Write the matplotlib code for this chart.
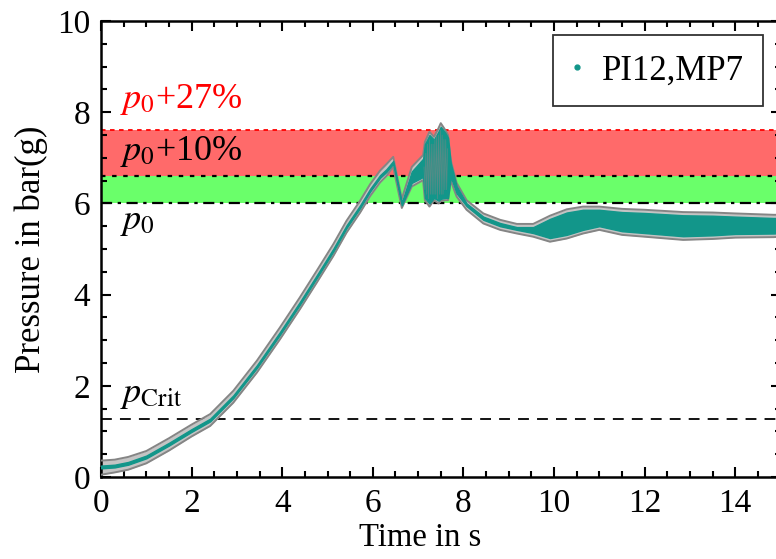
import numpy as np
import matplotlib
matplotlib.use("Agg")
import matplotlib.pyplot as plt
from matplotlib.ticker import MultipleLocator

plt.rcParams['font.family'] = ['Liberation Serif', 'DejaVu Serif']
plt.rcParams['mathtext.fontset'] = 'stix'

# reference levels in bar(g)
p0 = 6.0
p10 = 6.6
p27 = 7.62
p_crit = 1.27

# measured pressure PI12, MP7: time, grey envelope (hi/lo), teal envelope (hi/lo)
t = [0.0, 0.3, 0.6, 1.0, 1.5, 2.0, 2.41, 2.92, 3.44, 3.95, 4.39, 4.76, 5.13,
     5.42, 5.72, 5.94, 6.16, 6.30, 6.45, 6.64, 6.86, 7.11, 7.15, 7.25, 7.35,
     7.45, 7.50, 7.60, 7.66, 7.72, 7.85, 8.07, 8.44, 8.81, 9.18, 9.54, 9.91,
     10.28, 10.64, 11.0, 11.5, 12.0, 12.85, 13.5, 14.0, 14.85, 15.0]
grey_hi = [0.36, 0.38, 0.44, 0.57, 0.85, 1.15, 1.38, 1.89, 2.55, 3.28, 3.94, 4.52, 5.11,
           5.62, 6.06, 6.42, 6.72, 6.86, 7.02, 6.10, 6.80, 7.06, 7.35, 7.57, 7.46,
           7.65, 7.76, 7.61, 7.50, 6.95, 6.45, 6.07, 5.78, 5.64, 5.55, 5.55, 5.73,
           5.87, 5.93, 5.93, 5.88, 5.86, 5.81, 5.80, 5.78, 5.75, 5.75]
grey_lo = [0.05, 0.10, 0.16, 0.30, 0.58, 0.89, 1.12, 1.63, 2.29, 3.02, 3.68, 4.26, 4.85,
           5.36, 5.80, 6.16, 6.46, 6.60, 6.80, 5.90, 6.37, 6.51, 6.07, 5.93, 6.07,
           6.00, 6.05, 6.07, 6.07, 6.50, 6.15, 5.86, 5.56, 5.42, 5.34, 5.27, 5.16,
           5.23, 5.34, 5.42, 5.31, 5.27, 5.20, 5.22, 5.25, 5.26, 5.27]
teal_hi = [0.25, 0.27, 0.33, 0.47, 0.75, 1.05, 1.28, 1.79, 2.45, 3.18, 3.84, 4.42, 5.01,
           5.52, 5.96, 6.32, 6.62, 6.75, 6.93, 6.02, 6.70, 6.98, 7.30, 7.50, 7.40,
           7.58, 7.68, 7.55, 7.44, 6.88, 6.38, 6.00, 5.71, 5.57, 5.48, 5.48, 5.66,
           5.80, 5.86, 5.86, 5.81, 5.79, 5.74, 5.73, 5.71, 5.68, 5.68]
teal_lo = [0.19, 0.21, 0.27, 0.41, 0.69, 0.99, 1.22, 1.73, 2.39, 3.12, 3.78, 4.36, 4.95,
           5.46, 5.90, 6.26, 6.56, 6.69, 6.87, 5.96, 6.45, 6.58, 6.12, 6.00, 6.12,
           6.06, 6.10, 6.12, 6.12, 6.58, 6.22, 5.94, 5.64, 5.50, 5.42, 5.35, 5.24,
           5.31, 5.42, 5.50, 5.39, 5.35, 5.28, 5.30, 5.33, 5.34, 5.35]

# rapid oscillation between 7.1 s and 7.7 s (grey speckle inside the teal block)
t_osc = [7.13, 7.15, 7.17, 7.19, 7.21, 7.23, 7.25, 7.27, 7.29, 7.31, 7.33, 7.35,
         7.37, 7.39, 7.41, 7.43, 7.45, 7.47, 7.49, 7.51, 7.53, 7.55, 7.57, 7.59,
         7.61, 7.63, 7.65]
p_osc = [6.8, 6.3, 7.1, 6.2, 7.3, 6.1, 7.4, 6.2, 7.3, 6.2, 7.3, 6.2, 7.4, 6.2,
         7.5, 6.1, 7.5, 6.2, 7.6, 6.2, 7.5, 6.2, 7.4, 6.3, 7.4, 6.3, 7.2]

teal = '#12968a'
grey = '#858585'

fig = plt.figure(figsize=(7.76, 5.59), dpi=100)
ax = fig.add_axes([0.1302, 0.1467, 0.8756, 0.8157])

# tolerance bands
ax.axhspan(p10, p27, color='#ff6a6a', lw=0, zorder=0)
ax.axhspan(p0, p10, color='#6aff6a', lw=0, zorder=0)
ax.axhline(p27, color='red', ls=(0, (2.5, 2.5)), lw=1.3, zorder=1)
ax.axhline(p10, color='black', ls=(0, (2, 3)), lw=1.6, zorder=1)
ax.axhline(p0, color='black', ls=(0, (5, 2.5, 1.5, 2.5)), lw=1.6, zorder=1)
ax.axhline(p_crit, color='black', ls=(0, (6, 4.5)), lw=1.3, zorder=1)

# measurement with scatter band
ax.fill_between(t, grey_lo, grey_hi, color='#c4c4c4', lw=0, zorder=2)
ax.plot(t, grey_hi, color=grey, lw=1.4, zorder=3)
ax.plot(t, grey_lo, color=grey, lw=1.4, zorder=3)
ax.fill_between(t, teal_lo, teal_hi, color=teal, lw=1.0, edgecolor=teal, zorder=4)
ax.plot(t_osc, p_osc, color=grey, lw=0.5, alpha=0.6, zorder=5)
ax.plot([], [], ls='none', marker='o', ms=3.5, color=teal, label='PI12,MP7')

ax.text(0.42, 8.27, r'$p_0$+27%', color='red', fontsize=26, va='center')
ax.text(0.42, 7.13, r'$p_0$+10%', color='black', fontsize=26, va='center')
ax.text(0.42, 5.6, r'$p_0$', color='black', fontsize=26, va='center')
ax.text(0.42, 1.8, r'$p_{\rm Crit}$', color='black', fontsize=26, va='center')

ax.set_xlim(0, 15)
ax.set_ylim(0, 10)
ax.xaxis.set_major_locator(MultipleLocator(2))
ax.xaxis.set_minor_locator(MultipleLocator(0.5))
ax.yaxis.set_major_locator(MultipleLocator(2))
ax.yaxis.set_minor_locator(MultipleLocator(0.5))
ax.tick_params(which='both', direction='in', top=True, right=True, width=1.5,
               labelsize=24)
ax.tick_params(axis='x', pad=8)
ax.tick_params(axis='y', pad=8)
ax.tick_params(which='major', length=7)
ax.tick_params(which='minor', length=4)
for s in ax.spines.values():
    s.set_linewidth(1.8)

ax.set_xlabel('Time in s', fontsize=23.5)
ax.xaxis.set_label_coords(0.469, -0.099)
ax.set_ylabel('Pressure in bar(g)', fontsize=25)
ax.yaxis.set_label_coords(-0.078, 0.5)

leg = ax.legend(loc='upper right', bbox_to_anchor=(0.974, 0.969), fontsize=25,
                frameon=True, fancybox=False, handlelength=0.3, handletextpad=0.55,
                borderpad=0.55, borderaxespad=0, markerscale=1.0)
leg.get_frame().set_edgecolor('black')
leg.get_frame().set_linewidth(1.3)

fig.savefig('out.png', dpi=100)
